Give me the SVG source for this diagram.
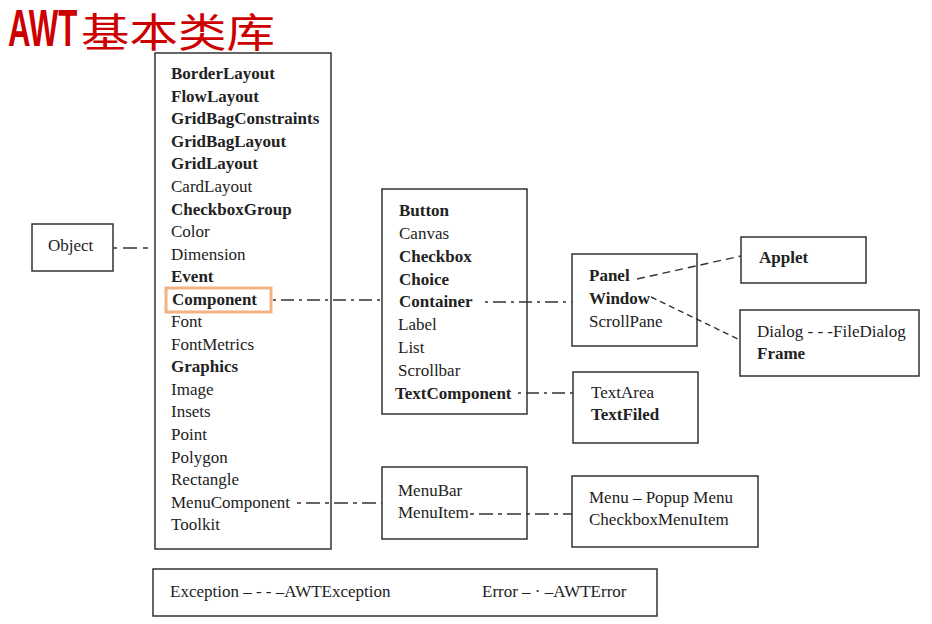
<svg xmlns="http://www.w3.org/2000/svg" width="932" height="624" viewBox="0 0 932 624">
<style>
.box{fill:#fff;stroke:#333;stroke-width:1.5}
.t{font-family:"Liberation Serif","Tinos","Times New Roman","DejaVu Serif",serif;font-size:17px;fill:#222}
.b{font-weight:bold}
.c{fill:none;stroke:#333;stroke-width:1.4}
.dd{stroke-dasharray:3 5 13 5}
.ds{stroke-dasharray:8 5}
</style>
<rect width="932" height="624" fill="#fff"/>
<g id="title">
<text transform="translate(8,46) scale(0.6,1)" font-family="'Liberation Sans',Arial,sans-serif" font-weight="bold" font-size="52" fill="#cc0000">AWT</text>
<text x="81" y="47" font-family="'Noto Sans CJK SC','Noto Sans CJK JP',sans-serif" font-size="40" fill="#cc0000" textLength="194" lengthAdjust="spacingAndGlyphs">基本类库</text>
</g>
<g id="object">
<rect class="box" x="32" y="224" width="81" height="47"/>
<text class="t" x="48" y="251">Object</text>
</g>
<g id="main">
<rect class="box" x="155" y="53" width="176" height="496"/>
<rect x="166" y="288" width="105" height="24" fill="none" stroke="#f4b183" stroke-width="3"/>
<text class="t b" x="171" y="79">BorderLayout</text>
<text class="t b" x="171" y="101.5">FlowLayout</text>
<text class="t b" x="171" y="124">GridBagConstraints</text>
<text class="t b" x="171" y="146.5">GridBagLayout</text>
<text class="t b" x="171" y="169">GridLayout</text>
<text class="t" x="171" y="192">CardLayout</text>
<text class="t b" x="171" y="214.5">CheckboxGroup</text>
<text class="t" x="171" y="237">Color</text>
<text class="t" x="171" y="259.5">Dimension</text>
<text class="t b" x="171" y="282">Event</text>
<text class="t b" x="172" y="305">Component</text>
<text class="t" x="171" y="327">Font</text>
<text class="t" x="171" y="349.5">FontMetrics</text>
<text class="t b" x="171" y="372">Graphics</text>
<text class="t" x="171" y="395">Image</text>
<text class="t" x="171" y="417">Insets</text>
<text class="t" x="171" y="440">Point</text>
<text class="t" x="171" y="462.5">Polygon</text>
<text class="t" x="171" y="485">Rectangle</text>
<text class="t" x="171" y="507.5">MenuComponent</text>
<text class="t" x="171" y="530">Toolkit</text>
</g>
<g id="component">
<rect class="box" x="382" y="189" width="145" height="225"/>
<text class="t b" x="399" y="216">Button</text>
<text class="t" x="399" y="239">Canvas</text>
<text class="t b" x="399" y="262">Checkbox</text>
<text class="t b" x="399" y="284.5">Choice</text>
<text class="t b" x="399" y="307">Container</text>
<text class="t" x="398" y="330">Label</text>
<text class="t" x="398" y="353">List</text>
<text class="t" x="398" y="375.5">Scrollbar</text>
<text class="t b" x="395" y="399">TextComponent</text>
</g>
<g id="container">
<rect class="box" x="572" y="254" width="125" height="92"/>
<text class="t b" x="589" y="281">Panel</text>
<text class="t b" x="589" y="304">Window</text>
<text class="t" x="589" y="327">ScrollPane</text>
</g>
<g id="applet">
<rect class="box" x="741" y="237" width="125" height="46"/>
<text class="t b" x="759" y="263">Applet</text>
</g>
<g id="window">
<rect class="box" x="740" y="310" width="179" height="66"/>
<text class="t" x="757" y="337">Dialog - - -FileDialog</text>
<text class="t b" x="757" y="359">Frame</text>
</g>
<g id="textcomponent">
<rect class="box" x="573" y="372" width="125" height="71"/>
<text class="t" x="591" y="398">TextArea</text>
<text class="t b" x="591" y="420">TextFiled</text>
</g>
<g id="menucomponent">
<rect class="box" x="382" y="467" width="145" height="72"/>
<text class="t" x="398" y="496">MenuBar</text>
<text class="t" x="398" y="518">MenuItem</text>
</g>
<g id="menuitem">
<rect class="box" x="572" y="476" width="186" height="71"/>
<text class="t" x="589" y="503">Menu – Popup Menu</text>
<text class="t" x="589" y="525">CheckboxMenuItem</text>
</g>
<g id="exceptions">
<rect class="box" x="153" y="569" width="504" height="47"/>
<text class="t" x="170" y="597">Exception – - - –AWTException</text>
<text class="t" x="482" y="597">Error – · –AWTError</text>
</g>
<g id="connectors">
<path class="c" d="M113 248H155" stroke-dasharray="4 6 14 6 5 7"/>
<path class="c dd" d="M273 300H383"/>
<path class="c dd" d="M485 302H572"/>
<path class="c dd" d="M518 393H573"/>
<path class="c ds" d="M637 279L741 256"/>
<path class="c" d="M651 297L740 340" stroke-dasharray="6 4"/>
<path class="c" d="M297 503H382" stroke-dasharray="4 5 14 5"/>
<path class="c" d="M470 514H572" stroke-dasharray="4 5 14 5"/>
</g>
</svg>
